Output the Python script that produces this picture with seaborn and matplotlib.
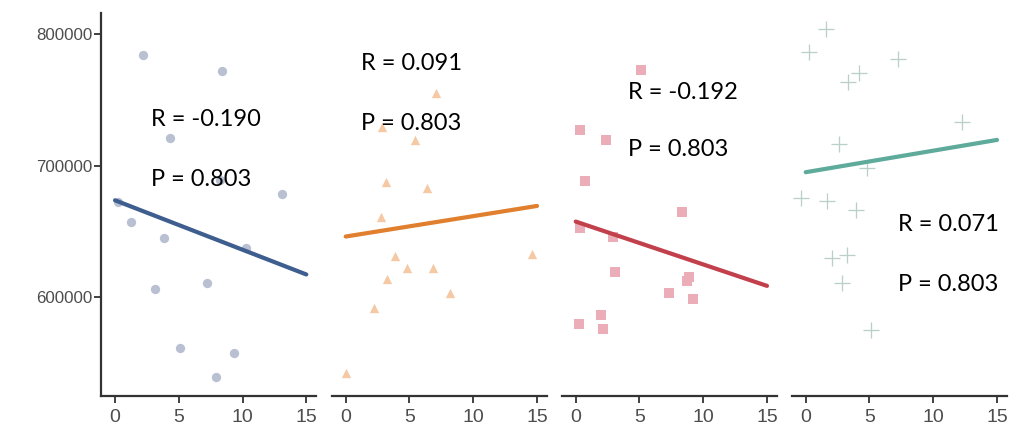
import numpy as np
import pandas as pd
import matplotlib
matplotlib.use("Agg")
import matplotlib.pyplot as plt
import seaborn as sns

# ---- data ----
x1 = [2.2, 8.35, 4.3, 13.1, 0.26, 1.25, 3.86, 10.3, 3.13, 7.2, 5.09, 9.36, 7.9, 8.2]
y1 = [784200, 772300, 720800, 678100, 672500, 657300, 645100, 637000, 605800, 610300, 561300, 557000, 538500, 689000]

x2 = [0.0, 2.2, 3.26, 3.9, 4.77, 6.86, 8.14, 14.6, 2.74, 3.13, 6.4, 2.87, 5.4, 7.1]
y2 = [541800, 591300, 613400, 631200, 621800, 621800, 602700, 632700, 660600, 687700, 682700, 729200, 719500, 755100]

x3 = [5.1, 0.34, 2.36, 0.73, 8.33, 0.31, 2.93, 3.09, 8.9, 8.72, 7.28, 9.17, 1.96, 2.1, 0.26]
y3 = [772800, 727100, 719500, 688500, 664400, 652700, 645900, 618700, 614900, 612300, 602700, 598400, 586200, 575700, 579100]

x4 = [1.57, 0.26, 7.2, 4.2, 3.28, 12.25, 2.62, 4.77, -0.39, 1.7, 3.93, 2.04, 3.22, 2.83, 5.1]
y4 = [803800, 786800, 780900, 770300, 763900, 733400, 716400, 698000, 675100, 673300, 666100, 629400, 631900, 610300, 574900]

# fitted lines (start at x=0, end at x=15)
line_x = [0, 15]
line_y1 = [673500, 617000]
line_y2 = [645900, 669200]
line_y3 = [657300, 608300]
line_y4 = [694900, 719500]

r_labels = ["R = -0.190", "R = 0.091", "R = -0.192", "R = 0.071"]
p_labels = ["P = 0.803", "P = 0.803", "P = 0.803", "P = 0.803"]
label_x = [2.8, 1.17, 4.08, 7.2]
label_ry = [734700, 777400, 756000, 654800]
label_py = [689000, 731700, 711900, 609100]

xticks = [0, 5, 10, 15]
yticks = [600000, 700000, 800000]

# ---- style ----
sns.set_theme(style="ticks")
plt.rcParams['font.family'] = ['Liberation Sans', 'DejaVu Sans']

point_colors = ["#b8c0d2", "#f4c9a3", "#ebadb8", "#b8cfca"]
line_colors = ["#3d5e8e", "#e07f2e", "#c2404b", "#5eaa9b"]
markers = ["o", "^", "s", "+"]

xs = [x1, x2, x3, x4]
ys = [y1, y2, y3, y4]
lys = [line_y1, line_y2, line_y3, line_y4]

fig = plt.figure(figsize=(10.09, 4.26), dpi=100)
W, H = 1009, 426
lefts = [101, 331.7, 561.7, 791.7]
pw = 215
bottom_px = 396
top_px = 13

for i in range(4):
    ax = fig.add_axes([lefts[i] / W, (H - bottom_px) / H, pw / W, (bottom_px - top_px) / H])
    df = pd.DataFrame({"x": xs[i], "y": ys[i]})
    if markers[i] == "+":
        sns.scatterplot(data=df, x="x", y="y", marker="+", color=point_colors[i],
                        s=120, linewidth=0.9, ax=ax, zorder=2)
    else:
        sns.scatterplot(data=df, x="x", y="y", marker=markers[i], color=point_colors[i],
                        s=45, linewidth=0, ax=ax, zorder=2)
    ldf = pd.DataFrame({"x": line_x, "y": lys[i]})
    sns.lineplot(data=ldf, x="x", y="y", color=line_colors[i], linewidth=3.0, ax=ax, zorder=3)

    ax.text(label_x[i], label_ry[i], r_labels[i], fontsize=17, color="black",
            va="center", ha="left", family=["Lato", "DejaVu Sans"], zorder=4)
    ax.text(label_x[i], label_py[i], p_labels[i], fontsize=17, color="black",
            va="center", ha="left", family=["Lato", "DejaVu Sans"], zorder=4)

    ax.set_xlim(-1.1, 15.76)
    ax.set_ylim(524400, 816200)
    ax.set_xticks(xticks)
    ax.set_xticklabels([str(t) for t in xticks])
    ax.set_xlabel("")
    ax.set_ylabel("")
    ax.tick_params(axis="x", labelsize=14, labelcolor="#4d4d4d", color="#333333",
                   length=5, width=1.3, pad=4)
    ax.tick_params(axis="y", labelsize=12.2, labelcolor="#4d4d4d", color="#333333",
                   length=5, width=1.3, pad=1)
    for sp in ["top", "right"]:
        ax.spines[sp].set_visible(False)
    ax.spines["bottom"].set_color("#333333")
    ax.spines["bottom"].set_linewidth(1.6)
    if i == 0:
        ax.set_yticks(yticks)
        ax.set_yticklabels([str(t) for t in yticks])
        ax.spines["left"].set_color("#333333")
        ax.spines["left"].set_linewidth(1.6)
    else:
        ax.spines["left"].set_visible(False)
        ax.set_yticks([])
    ax.set_facecolor("white")

fig.savefig("out.png", dpi=100, facecolor="white")
